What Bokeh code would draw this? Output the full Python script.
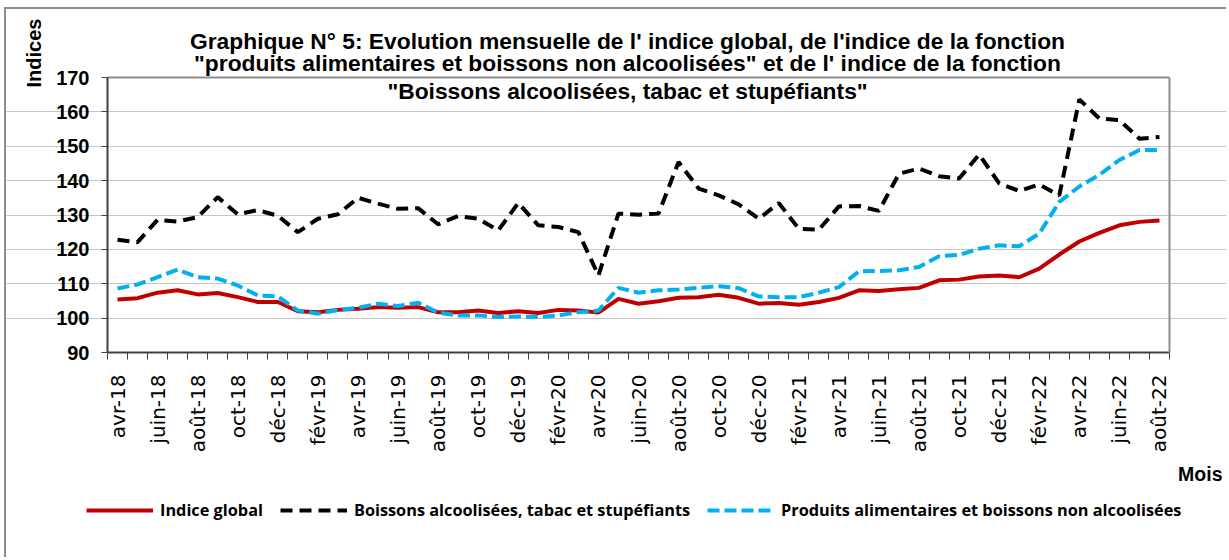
import math
from bokeh.plotting import figure
from bokeh.models import (Range1d, FixedTicker, Label, Legend, LegendItem, LinearAxis)
from bokeh.embed import file_html
from bokeh.resources import INLINE

months = ["avr-18", "mai-18", "juin-18", "juil-18", "août-18", "sept-18", "oct-18", "nov-18", "déc-18",
          "janv-19", "févr-19", "mars-19", "avr-19", "mai-19", "juin-19", "juil-19", "août-19", "sept-19",
          "oct-19", "nov-19", "déc-19", "janv-20", "févr-20", "mars-20", "avr-20", "mai-20", "juin-20",
          "juil-20", "août-20", "sept-20", "oct-20", "nov-20", "déc-20", "janv-21", "févr-21", "mars-21",
          "avr-21", "mai-21", "juin-21", "juil-21", "août-21", "sept-21", "oct-21", "nov-21", "déc-21",
          "janv-22", "févr-22", "mars-22", "avr-22", "mai-22", "juin-22", "juil-22", "août-22"]

indice_global = [105.4, 105.8, 107.4, 108.1, 106.9, 107.3, 106.1, 104.7, 104.7, 102.0,
                 101.7, 102.4, 102.7, 103.2, 103.0, 103.2, 101.7, 101.7, 102.2, 101.5,
                 102.0, 101.5, 102.4, 102.2, 101.6, 105.6, 104.2, 104.9, 105.9, 106.1,
                 106.8, 105.9, 104.2, 104.4, 103.9, 104.7, 105.9, 108.1, 107.9, 108.4,
                 108.8, 111.0, 111.2, 112.1, 112.4, 111.9, 114.4, 118.5, 122.3, 124.8,
                 127.0, 128.0, 128.4]

boissons_alcoolisees = [122.8, 122.1, 128.6, 128.1, 129.4, 135.2, 130.2, 131.4, 129.8, 125.0,
                        128.9, 130.2, 135.0, 133.3, 131.8, 132.0, 127.3, 129.7, 128.9, 125.5,
                        133.5, 127.0, 126.5, 125.0, 112.4, 130.4, 130.1, 130.4, 145.4, 137.7,
                        135.7, 133.1, 128.9, 133.5, 126.0, 125.7, 132.5, 132.6, 131.2, 142.0,
                        143.5, 141.3, 140.6, 147.6, 139.2, 137.0, 138.9, 135.7, 163.6, 158.1,
                        157.6, 152.2, 152.7]

produits_alimentaires = [108.6, 109.8, 111.9, 114.1, 111.9, 111.5, 109.5, 106.6, 106.3, 102.2,
                         101.3, 102.4, 103.0, 104.2, 103.5, 104.5, 101.6, 100.8, 100.8, 100.3,
                         100.5, 100.3, 100.8, 101.7, 102.2, 108.8, 107.4, 108.1, 108.3, 108.8,
                         109.3, 108.7, 106.3, 106.1, 106.1, 107.4, 109.0, 113.6, 113.7, 113.9,
                         114.9, 118.0, 118.4, 120.2, 121.2, 120.9, 124.6, 133.8, 138.3, 141.7,
                         146.0, 148.9, 148.9]

y_ticks = [90, 100, 110, 120, 130, 140, 150, 160, 170]

title_lines = ["Graphique N° 5: Evolution mensuelle de l' indice global, de l'indice de la fonction",
               "\"produits alimentaires et boissons non alcoolisées\" et de l' indice de la fonction",
               "\"Boissons alcoolisées, tabac et stupéfiants\""]
y_title = "Indices"
x_title = "Mois"
series_names = ["Indice global", "Boissons alcoolisées, tabac et stupéfiants",
                "Produits alimentaires et boissons non alcoolisées"]

x = list(range(len(months)))
x_lo, x_hi = -0.5, len(months) - 0.5
y_lo, y_hi = y_ticks[0], y_ticks[-1]

# canvas geometry (page pixels); the plotting area spans 107..1169 x 77..352
W, H = 1222, 550
OX, OY = 6, 9
AL, AR, AT, AB = 107, 1169, 77, 352
ppx = (AR - AL) / (x_hi - x_lo)
ppy = (AB - AT) / (y_hi - y_lo)

def dx(page_x):
    return x_lo + (page_x - AL) / ppx

def dy(page_y):
    return y_hi - (page_y - AT) / ppy

p = figure(width=W, height=H, output_backend="svg", toolbar_location=None,
           x_range=Range1d(dx(OX), dx(OX + W)), y_range=Range1d(dy(OY + H), dy(OY)),
           min_border=0, min_border_left=0, min_border_right=0, min_border_top=0, min_border_bottom=0,
           background_fill_color="white", border_fill_color="white",
           styles={"border-left": "2px solid #8c8c8c", "border-top": "2px solid #8c8c8c",
                   "margin-left": "4px", "margin-top": "7px"})
p.outline_line_color = None

# bottom category axis
xa = p.xaxis[0]
xa.fixed_location = y_lo
xa.bounds = (x_lo, x_hi)
xa.ticker = FixedTicker(ticks=x[::2], minor_ticks=[i - 0.5 for i in range(len(months) + 1)])
xa.major_label_overrides = {i: months[i] for i in x[::2]}
xa.major_label_orientation = math.pi / 2
xa.major_tick_out = 0
xa.major_tick_in = 0
xa.minor_tick_out = 7
xa.minor_tick_in = 0
xa.minor_tick_line_color = "#404040"
xa.minor_tick_line_width = 1
xa.major_label_standoff = 15
xa.major_label_text_font = "DejaVu Sans"
xa.major_label_text_font_size = "20px"
xa.major_label_text_color = "black"
xa.axis_line_color = "#404040"
xa.axis_line_width = 2
p.xgrid.visible = False

# left value axis
ya = p.yaxis[0]
ya.fixed_location = x_lo
ya.bounds = (y_lo, y_hi)
ya.ticker = FixedTicker(ticks=y_ticks, minor_ticks=[])
ya.major_tick_out = 6
ya.major_tick_in = 0
ya.major_tick_line_color = "#404040"
ya.minor_tick_out = 0
ya.minor_tick_in = 0
ya.major_label_standoff = 12
ya.major_label_text_font = "Liberation Sans"
ya.major_label_text_font_style = "bold"
ya.major_label_text_font_size = "20px"
ya.major_label_text_color = "black"
ya.axis_line_color = "#404040"
ya.axis_line_width = 2
p.ygrid.ticker = FixedTicker(ticks=y_ticks[1:-1])
p.ygrid.bounds = (x_lo, x_hi)
p.ygrid.grid_line_color = "#8c8c8c"
p.ygrid.grid_line_dash = "1 1"
p.ygrid.grid_line_width = 1

# top and right edges of the plotting area
top_edge = LinearAxis(fixed_location=y_hi, bounds=(x_lo, x_hi), ticker=FixedTicker(ticks=[]),
                      axis_line_color="#8c8c8c", axis_line_width=2, major_tick_out=0,
                      minor_tick_out=0, major_label_text_alpha=0)
right_edge = LinearAxis(fixed_location=x_hi, bounds=(y_lo, y_hi), ticker=FixedTicker(ticks=[]),
                        axis_line_color="#8c8c8c", axis_line_width=2, major_tick_out=0,
                        minor_tick_out=0, major_label_text_alpha=0)
p.add_layout(top_edge, "above")
p.add_layout(right_edge, "right")

r_glob = p.line(x, indice_global, line_color="#C00000", line_width=4)
r_bois = p.line(x, boissons_alcoolisees, line_color="black", line_width=4, line_dash="12 7")
r_prod = p.line(x, produits_alimentaires, line_color="#00B0F0", line_width=4, line_dash="12 5")

legend = Legend(items=[LegendItem(label=series_names[0], renderers=[r_glob]),
                       LegendItem(label=series_names[1], renderers=[r_bois]),
                       LegendItem(label=series_names[2], renderers=[r_prod])],
                orientation="horizontal", location=(86 - OX, OY + H - 521),
                glyph_width=67, glyph_height=20, label_standoff=7, spacing=17,
                padding=0, margin=0, border_line_alpha=0, background_fill_alpha=0,
                label_text_font="Open Sans", label_text_font_style="bold",
                label_text_font_size="16.3px", label_text_color="black")
p.add_layout(legend)

for line, base in zip(title_lines, [40, 62.5, 90.5]):
    p.add_layout(Label(x=dx(627), y=dy(base), text=line, text_align="center",
                       text_baseline="alphabetic", text_font="Liberation Sans",
                       text_font_style="bold", text_font_size="22.8px", text_color="black"))

p.add_layout(Label(x=dx(33), y=dy(52.5), text=y_title, angle=math.pi / 2, text_align="center",
                   text_baseline="alphabetic", text_font="Liberation Sans", text_font_style="bold",
                   text_font_size="20px", text_color="black"))
p.add_layout(Label(x=dx(1222), y=dy(473.5), text=x_title, text_align="right",
                   text_baseline="alphabetic", text_font="Liberation Sans", text_font_style="bold",
                   text_font_size="19.5px", text_color="black"))

open("out.html", "w").write(file_html(p, INLINE))
